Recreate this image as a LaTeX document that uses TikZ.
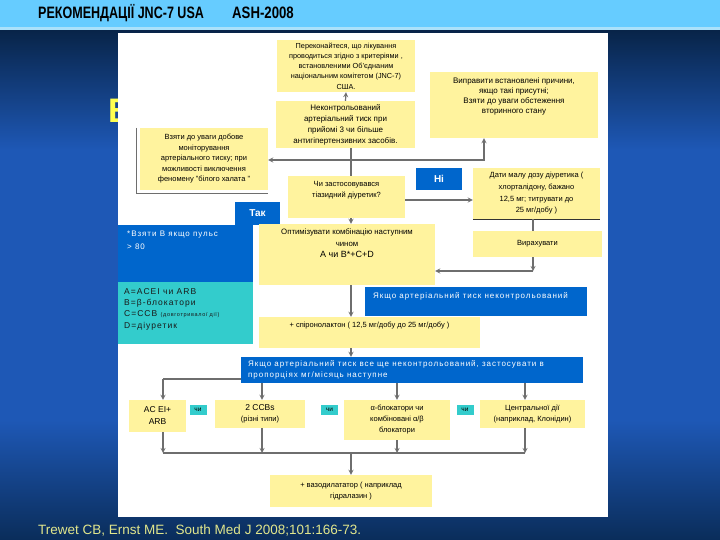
\documentclass[tikz,border=0pt]{standalone}
\usepackage{fontspec}
\setmainfont{Liberation Sans}
\newfontfamily\widefont[LetterSpace=12]{Liberation Sans}
\usetikzlibrary{positioning}
\definecolor{boxyellow}{RGB}{255,243,158}
\definecolor{boxblue}{RGB}{0,102,204}
\definecolor{boxteal}{RGB}{51,204,204}
\definecolor{linegray}{RGB}{110,110,110}
\definecolor{barblue}{RGB}{102,204,255}
\definecolor{barlight}{RGB}{170,225,250}
\definecolor{navydark}{RGB}{10,45,90}
\definecolor{bgblue}{RGB}{30,88,182}
\definecolor{citecolor}{RGB}{225,230,140}
\definecolor{titleyellow}{RGB}{255,255,80}

\begin{document}
\begin{tikzpicture}[x=1pt,y=-1pt,
    ybox/.style={fill=boxyellow,inner sep=0pt,align=center,font=\fontsize{7.5}{10.5}\selectfont},
    bbox/.style={fill=boxblue,inner sep=0pt},
    tbox/.style={fill=boxteal,inner sep=0pt},
    txt/.style={inner sep=0pt,align=center,font=\fontsize{7.5}{11}\selectfont},
    wtxt/.style={inner sep=0pt,align=left,text=white,font=\widefont\fontsize{8}{12.5}\selectfont},
    tag/.style={fill=boxblue,text=white,inner sep=0pt,font=\bfseries\fontsize{10}{10}\selectfont},
    ortag/.style={fill=boxteal,inner sep=0pt,minimum width=17pt,minimum height=10pt,font=\fontsize{6.5}{6.5}\selectfont},
    conn/.style={draw=linegray,line width=1.2pt},
    >=stealth]
    \useasboundingbox (0,0) rectangle (720,540);
    \fill[bgblue] (0,30) rectangle (720,540);
    \shade[top color=navydark!80!black,bottom color=bgblue] (0,30) rectangle (720,150);
    \shade[top color=bgblue,bottom color=navydark] (0,420) rectangle (720,540);
    \fill[barblue] (0,0) rectangle (720,27);
    \fill[barlight] (0,27) rectangle (720,30);
    \node[anchor=west,inner sep=0pt,font=\bfseries\fontsize{16.5}{16.5}\selectfont] (title) at (38,13) {\scalebox{0.76}[1]{РЕКОМЕНДАЦІЇ JNC-7 USA}};
    \node[anchor=west,inner sep=0pt,font=\bfseries\fontsize{16.5}{16.5}\selectfont] (ash) at (232,13) {\scalebox{0.8}[1]{ASH-2008}};
    \node[anchor=west,inner sep=0pt,text=titleyellow,font=\bfseries\fontsize{34}{34}\selectfont] (hidden) at (108,111) {В};
    \fill[white] (118,33) rectangle (608,517);
    \node[anchor=west,inner sep=0pt,text=citecolor,font=\fontsize{13.5}{13.5}\selectfont] (cite) at (38,530) {Trewet CB, Ernst ME.\ \ South Med J 2008;101:166-73.};

    \node[ybox,minimum width=138pt,minimum height=52pt,font=\fontsize{7.3}{10.2}\selectfont] (b1) at (346,66) {Переконайтеся, що лікування\\проводиться згідно з критеріями ,\\встановленими Об’єднаним\\національним комітетом (JNC-7)\\США.};
    \node[ybox,minimum width=139pt,minimum height=47pt,font=\fontsize{8}{11}\selectfont] (b2) at (345.5,124.5) {Неконтрольований\\артеріальний тиск при\\прийомі 3 чи більше\\антигіпертензивних засобів.};
    \node[ybox,minimum width=168pt,minimum height=66pt] (b3) at (514,105) {};
    \node[txt,font=\fontsize{8}{10}\selectfont,below=6pt of b3.north] (b3t) {Виправити встановлені причини,\\якщо такі присутні;\\Взяти до уваги обстеження\\вторинного стану};
    \node[ybox,minimum width=128pt,minimum height=62pt] (b4) at (204,159) {Взяти до уваги добове\\моніторування\\артеріального тиску; при\\можливості виключення\\феномену "білого халата "};
    \draw[linegray,line width=0.8pt] ([xshift=-3pt]b4.north west) |- ([yshift=-3pt]b4.south east);
    \node[ybox,minimum width=117pt,minimum height=42pt] (b5) at (346.5,197) {};
    \node[txt,below=5pt of b5.north] (b5t) {Чи застосовувався\\тіазидний діуретик?};
    \node[tag,minimum width=46pt,minimum height=22pt] (ni) at (439,179) {Ні};
    \node[ybox,minimum width=127pt,minimum height=51pt,font=\fontsize{7.5}{11.7}\selectfont] (b6) at (536.5,193.5) {Дати малу дозу діуретика (\\хлорталідону, бажано\\12,5 мг; титрувати до\\25 мг/добу )};
    \draw[black!80,line width=1.2pt] (b6.south west) -- (b6.south east);
    \node[ybox,minimum width=129pt,minimum height=26pt] (b7) at (537.5,244) {Вирахувати};
    \node[tag,minimum width=45pt,minimum height=23pt] (tak) at (257.5,213.5) {Так};
    \node[ybox,minimum width=176pt,minimum height=61pt] (b8) at (347,254.5) {};
    \node[txt,font=\fontsize{7.8}{11.5}\selectfont,below=5pt of b8.north] (b8t) {Оптимізувати комбінацію наступним\\чином\\{\fontsize{9}{12}\selectfont A чи B*+C+D}};
    \node[bbox,minimum width=135pt,minimum height=57pt] (pulse) at (185.5,253.5) {};
    \node[wtxt,anchor=north west] (pulset) at (127,231) {*Взяти B якщо пульс\\> 80};
    \node[tbox,minimum width=135pt,minimum height=62pt] (legend) at (185.5,313) {};
    \node[wtxt,text=black!90,anchor=north west,font=\widefont\fontsize{8.5}{11.3}\selectfont] (legendt) at (124,288) {A=ACEI чи ARB\\B=β-блокатори\\C=CCB {\fontsize{5.5}{5.5}\selectfont (довготривалої дії)}\\D=діуретик};
    \node[bbox,minimum width=222pt,minimum height=29pt] (ban1) at (476,301.5) {};
    \node[wtxt,anchor=north west] (ban1t) at (373,292) {Якщо артеріальний тиск неконтрольований};
    \node[ybox,minimum width=221pt,minimum height=31pt] (b9) at (369.5,332.5) {};
    \node[txt,below=5pt of b9.north] (b9t) {+ спіронолактон ( 12,5 мг/добу до 25 мг/добу )};
    \node[bbox,minimum width=342pt,minimum height=26pt] (ban2) at (412,370) {};
    \node[wtxt,anchor=north west,font=\widefont\fontsize{8}{11.5}\selectfont] (ban2t) at (248,360) {Якщо артеріальний тиск все ще неконтрольований, застосувати в\\пропорціях мг/місяць наступне};

    \node[ybox,minimum width=57pt,minimum height=32pt,font=\fontsize{8.5}{12}\selectfont] (c1) at (157.5,416) {AC EI+\\ARB};
    \node[ortag] (or1) at (198,410) {чи};
    \node[ybox,minimum width=90pt,minimum height=28pt,font=\fontsize{7.5}{11}\selectfont] (c2) at (260,414) {{\fontsize{8.5}{11}\selectfont 2 CCBs}\\(різні типи)};
    \node[ortag] (or2) at (329.5,410) {чи};
    \node[ybox,minimum width=106pt,minimum height=40pt,font=\fontsize{7.5}{11}\selectfont] (c3) at (397,420) {α-блокатори чи\\комбіновані α/β\\блокатори};
    \node[ortag] (or3) at (465,410) {чи};
    \node[ybox,minimum width=105pt,minimum height=28pt,font=\fontsize{7.5}{11}\selectfont] (c4) at (532.5,414) {Центральної дії\\(наприклад, Клонідин)};
    \node[ybox,minimum width=162pt,minimum height=32pt] (c5) at (351,491) {+ вазодилататор ( наприклад\\гідралазин )};

    \coordinate (j1) at (351,160);
    \coordinate (j2) at (484,160);
    \coordinate (j3) at (533,271);
    \coordinate (e1) at (163,379);
    \coordinate (d1) at (163,453);
    \coordinate (d2) at (262,453);
    \coordinate (d3) at (397,453);
    \coordinate (d4) at (525,453);

    \draw[conn,->] (b2.north) -- (b1.south);
    \draw[conn] (b2.south -| j1) -- (b5.north -| j1);
    \draw[conn,->] (j1) -- (b4.east |- j1);
    \draw[conn,->] (j1) -- (j2) -- (b3.south -| j2);
    \draw[conn,->] ([yshift=-3pt]b5.east) -- ([yshift=-3pt]b5.east -| b6.west);
    \draw[conn,->] (b5.south -| j1) -- (b8.north -| j1);
    \draw[conn] (b6.south -| j3) -- (b7.north -| j3);
    \draw[conn,->] (b7.south -| j3) -- (j3);
    \draw[conn,->] (j3) -- (j3 -| b8.east);
    \draw[conn,->] (b8.south -| j1) -- (b9.north -| j1);
    \draw[conn,->] (b9.south -| j1) -- (ban2.north -| j1);
    \draw[conn] (ban2.west |- e1) -- (e1);
    \draw[conn,->] (e1) -- (c1.north -| e1);
    \draw[conn,->] (ban2.south -| d2) -- (c2.north -| d2);
    \draw[conn,->] (ban2.south -| d3) -- (c3.north -| d3);
    \draw[conn,->] (ban2.south -| d4) -- (c4.north -| d4);
    \draw[conn,->] (c1.south -| d1) -- (d1);
    \draw[conn,->] (c2.south -| d2) -- (d2);
    \draw[conn,->] (c3.south -| d3) -- (d3);
    \draw[conn,->] (c4.south -| d4) -- (d4);
    \draw[conn] (d1) -- (d4);
    \draw[conn,->] (c5.north |- d1) -- (c5.north);
\end{tikzpicture}
\end{document}
